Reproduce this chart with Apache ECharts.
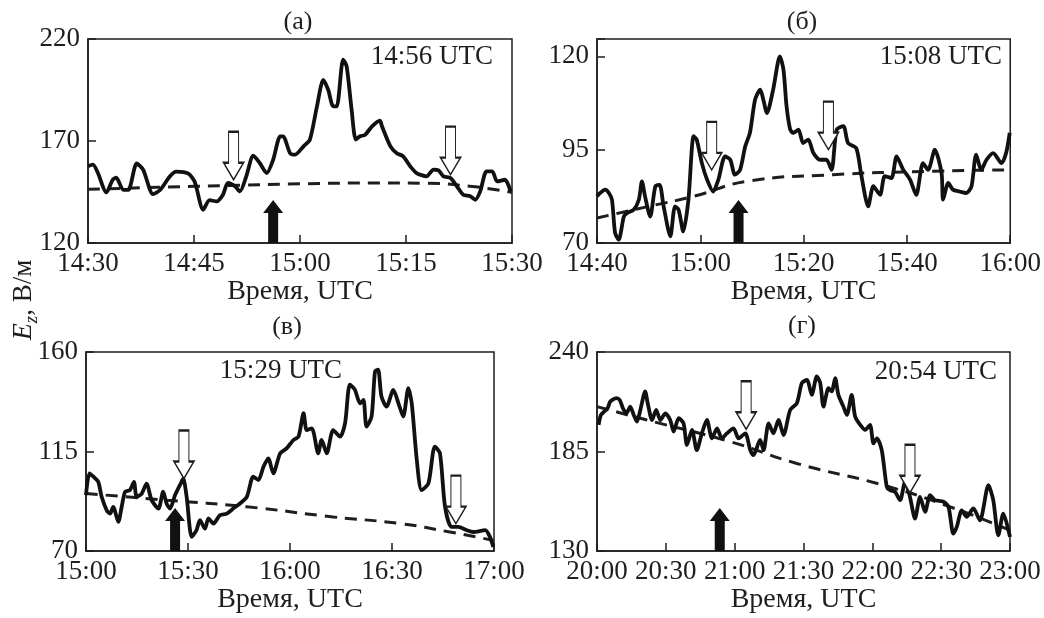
<!DOCTYPE html>
<html>
<head>
<meta charset="utf-8">
<script src="https://cdn.jsdelivr.net/npm/echarts@6/dist/echarts.min.js"></script>
<style>
html,body{margin:0;padding:0;background:#fff;}
#chart{width:1044px;height:618px;}
</style>
</head>
<body>
<div id="chart"></div>
<script>
// ---- Panel (а): minutes after 14:30, Ez in V/m ----
const ticksA = ['14:30', '14:45', '15:00', '15:15', '15:30'];
const curveA = [[0,157.6],[0.7,158.4],[1.4,154.3],[2.6,144.8],[3.5,151],[4,152],[5,146],[5.7,146],[6.9,159],[7.8,156],[9.2,144],[10.2,146],[11.6,152.7],[12.5,155],[14.2,154],[15.1,150],[16.3,136.3],[17.2,141],[18.2,140.4],[19.1,143.7],[19.8,149.4],[20.8,147.8],[21.5,145.3],[22.4,152.7],[23.4,162.8],[24.3,159.2],[25.3,154.3],[26.2,160.8],[27.2,172.3],[27.6,172.3],[28.6,164],[29.3,163.3],[30.5,167.4],[31.4,170.7],[32.4,187],[33.3,200],[34,195],[34.7,187],[35.2,187],[36.1,209.9],[36.6,206.6],[37.3,185.4],[37.9,170.7],[38.5,172.3],[39.2,173],[40.2,177.2],[41.3,180],[41.6,177.2],[42.8,167.4],[43.7,164],[44.6,162.5],[45.6,157.6],[46.5,154.3],[47.9,152.7],[48.9,156],[49.6,155.6],[50.3,152.7],[51.3,151.9],[52.2,147.8],[53.1,143.7],[54.1,142.9],[54.8,141.2],[55.5,145.3],[56.4,155.1],[57.2,155.1],[57.9,150.2],[59,151],[59.8,145.3]];
const trendA = [[0,146.3],[10,147.3],[20,148.2],[30,149],[40,149.4],[48,149.3],[54,147.8],[58,146],[60,144.8]];
const openArrowsA = [[20.6,151],[51.3,153.5]];
const eventA = 26.2;

// ---- Panel (б): minutes after 14:40 ----
const ticksB = ['14:40', '15:00', '15:20', '15:40', '16:00'];
const curveB = [[0,82.5],[0.6,83.4],[1.6,84.3],[2.3,83.4],[2.9,81.6],[3.5,72.7],[4.2,70.9],[5.2,77.1],[5.8,78],[7.1,78.9],[8.1,81.6],[8.7,86.5],[9.3,82.5],[10.3,77.1],[11.3,85.2],[12.1,85.6],[12.9,79.8],[14.2,71.8],[15.1,79.8],[15.8,78.9],[16.7,73.1],[17.7,81.6],[18.7,98.6],[19.3,97.7],[20.3,91.4],[21.3,87],[22.5,83.8],[23.5,87],[24.8,93.2],[25.8,92.3],[26.7,88.3],[27.7,89.6],[28.7,95.9],[29.6,99.5],[30.6,108.4],[31.6,111.1],[32.2,108.4],[32.9,104.8],[34.1,111.1],[35.4,120],[36.1,116.4],[36.7,106.6],[37.4,100.4],[38,99.5],[39,100.4],[39.9,96.8],[40.9,97.7],[41.9,94.1],[43.2,92.3],[44.4,92.3],[45.4,89.6],[46.4,100.4],[47.7,101.3],[48.6,96.8],[50.2,95.4],[51.2,87.9],[52.5,79.8],[53.5,85.2],[54.8,82.9],[55.7,87.9],[57,87.4],[58,93.2],[59.3,89.6],[60.6,87],[61.8,82.9],[63.1,91.4],[64.1,89.6],[65.4,95],[66.7,88.8],[67,81.6],[68,86.1],[68.9,84.3],[70.2,83.8],[71.5,83.4],[72.5,85.2],[73.4,93.7],[74.4,89.6],[75.4,92.3],[76.7,94.1],[78.3,91.4],[79.2,94.1],[79.9,99.5]];
const trendB = [[0,76.7],[10,79.8],[18.7,82.5],[29,86.5],[45.7,88.3],[63.8,89.2],[80,89.6]];
const openArrowsB = [[22.2,89.6],[44.8,95]];
const eventB = 27.4;

// ---- Panel (в): minutes after 15:00 ----
const ticksC = ['15:00', '15:30', '16:00', '16:30', '17:00'];
const curveC = [[0,95.3],[1,105.1],[2.2,103.6],[3.6,101.3],[4.6,94.5],[6.1,88.4],[7.1,86.9],[8,90],[9.5,83.2],[10.5,90],[11.5,96.8],[12.9,97.5],[14.1,101.3],[14.9,94.5],[16.4,96],[17.8,100.5],[19.3,93],[21.3,89.2],[22.7,96.8],[23.7,91.5],[24.7,89.2],[26.2,95.3],[28.1,101.3],[28.6,102.8],[29.6,94.5],[31.1,76.4],[32.5,79.4],[33.5,83.9],[35,80.1],[36,84.7],[37.5,82.4],[39.4,86.2],[41.4,86.9],[43.3,89.2],[45.3,91.5],[47.3,94.5],[49.2,103.6],[50.7,102.1],[52.2,108.1],[53.6,111.9],[55.1,105.1],[57.1,114.2],[59,116.4],[61,120.2],[62.5,121.7],[64,132.3],[64.9,124.7],[66.4,125.5],[68.3,114.2],[69.3,120.2],[70.8,114.2],[72.7,124.7],[74.7,121.7],[76.2,127.8],[77.6,145.2],[79.1,142.9],[80.6,136.8],[81.6,138.3],[82.5,126.3],[84,130.8],[85,151.2],[85.9,152],[86.9,139.9],[88.4,135.3],[90.4,142.9],[91.9,136.8],[93.3,130.8],[94.8,143.6],[95.8,136.8],[97.3,111.1],[98.7,97.5],[100.7,100.5],[102.6,117.2],[104.1,114.2],[105.6,90],[107.5,80.9],[109.5,80.9],[112,79.4],[113.9,78.6],[117.4,79.4],[118.8,76.4],[119.8,71.8]];
const trendC = [[0,96],[23.7,93],[47.3,90],[72.7,85.4],[92.4,82.4],[107,78.6],[119.8,74.8]];
const openArrowsC = [[28.8,102.8],[108.8,82.4]];
const eventC = 26.2;

// ---- Panel (г): minutes after 20:00 ----
const ticksD = ['20:00', '20:30', '21:00', '21:30', '22:00', '22:30', '23:00'];
const curveD = [[0.7,199.7],[1.7,205.2],[3.2,207.1],[4.6,208.9],[5.8,212.6],[8.4,214.5],[9.9,213.5],[11.3,208.9],[12.8,206.1],[14.5,209.8],[16,205.2],[17.4,201.5],[18.9,208],[21,218.2],[22.1,211.7],[24,202.4],[25.8,208],[27.6,202.4],[29.8,206.1],[31.9,202.4],[33.4,196],[35.6,203.4],[37.7,200.6],[39.2,188.6],[41.4,196.9],[43.5,185.8],[45.7,195],[47.9,202.4],[50.1,192.3],[52.3,197.8],[54.4,192.3],[56.6,195],[59.5,197.8],[61.7,192.3],[64.6,195],[66.8,185.8],[68.2,183],[71.1,191.4],[72.6,185.8],[74.8,200.6],[76.9,195],[79.1,202.4],[81.3,194.1],[84.2,208],[87.1,211.7],[89.3,222.8],[91.5,224.6],[93.6,216.3],[95.8,226.5],[97.3,222.8],[98.7,209.8],[100.9,220],[102.3,218.2],[103.8,225.5],[105.2,216.3],[107.4,209.8],[108.9,205.2],[111,216.3],[112.5,204.3],[114.7,199.7],[116.9,196.9],[119,199.7],[120.5,189.5],[122,192.3],[124.1,185.8],[126.3,165.5],[127.7,163.6],[129.9,162.7],[132.1,158.1],[134.3,168.3],[136.4,159.9],[138.6,147.9],[140.8,159.9],[143,151.6],[145.2,160.9],[147.3,158.1],[151,157.2],[153.2,154.4],[155.3,139.6],[156.8,143.3],[159,152.5],[161.1,148.9],[164,153.5],[166.9,147],[170.6,166.4],[172.7,158.1],[174.9,138.7],[177.1,150.7],[180,137.8]];
const trendD = [[0,209.8],[21.8,202.4],[58.1,190.4],[87.1,178.4],[124.8,166.4],[153.9,154.4],[180,141.5]];
const openArrowsD = [[65,197.3],[136.4,162.2]];
const eventD = 53.5;

const titles = ['(а)', '(б)', '(в)', '(г)'];
const notes = ['14:56 UTC', '15:08 UTC', '15:29 UTC', '20:54 UTC'];
const xName = 'Время, UTC';

// ---- layout / style ----
const FONT = '"Liberation Serif", "Times New Roman", serif';
const INK = '#1e1e1e';
const FS = 27;
const panels = [
  {grid: {left: 88, top: 39, width: 424, height: 204}, xMax: 60, xInt: 15, ticks: ticksA, yMin: 120, yMax: 220, yInt: 50, yLabels: [120,170,220], curve: curveA, trend: trendA, open: openArrowsA, ev: eventA},
  {grid: {left: 597, top: 39, width: 414, height: 204}, xMax: 80, xInt: 20, ticks: ticksB, yMin: 70, yMax: 124.66, yInt: 25, yLabels: [70,95,120], curve: curveB, trend: trendB, open: openArrowsB, ev: eventB},
  {grid: {left: 86, top: 352, width: 408, height: 199}, xMax: 120, xInt: 30, ticks: ticksC, yMin: 70, yMax: 160, yInt: 45, yLabels: [70,115,160], curve: curveC, trend: trendC, open: openArrowsC, ev: eventC},
  {grid: {left: 597, top: 352, width: 413, height: 199}, xMax: 180, xInt: 30, ticks: ticksD, yMin: 130, yMax: 240, yInt: 55, yLabels: [130,185,240], curve: curveD, trend: trendD, open: openArrowsD, ev: eventD}
];

const downArrow = 'path://M5,0 L15,0 L15,31 L20,31 L10,48 L0,31 L5,31 Z';
const upArrow = 'path://M10,0 L20,13 L15,13 L15,43 L5,43 L5,13 L0,13 Z';

const grids = [], xAxes = [], yAxes = [], series = [];
panels.forEach((p, i) => {
  grids.push(Object.assign({show: true, borderColor: INK, borderWidth: 1.5, backgroundColor: 'transparent', containLabel: false}, p.grid));
  xAxes.push({
    type: 'value', gridIndex: i, min: 0, max: p.xMax, interval: p.xInt,
    name: xName, nameLocation: 'middle', nameGap: 35,
    nameTextStyle: {fontFamily: FONT, fontSize: 28, color: INK},
    axisLine: {show: true, lineStyle: {color: INK, width: 1.5}},
    axisTick: {show: true, inside: true, length: 8, lineStyle: {color: INK, width: 1.5}},
    splitLine: {show: false},
    axisLabel: {fontFamily: FONT, fontSize: FS, color: INK, margin: 7, showMinLabel: true, showMaxLabel: true,
      formatter: (v) => { const k = Math.round(v / p.xInt); return (Math.abs(k * p.xInt - v) < 1e-6) ? (p.ticks[k] || '') : ''; }}
  });
  yAxes.push({
    type: 'value', gridIndex: i, min: p.yMin, max: p.yMax, interval: p.yInt,
    axisLine: {show: true, lineStyle: {color: INK, width: 1.5}},
    axisTick: {show: true, inside: true, length: 8, lineStyle: {color: INK, width: 1.5}},
    splitLine: {show: false},
    axisLabel: {fontFamily: FONT, fontSize: FS, color: INK, margin: 8, showMinLabel: true, showMaxLabel: true,
      formatter: (v) => p.yLabels.some(t => Math.abs(t - v) < 1e-6) ? String(Math.round(v)) : ''}
  });
  series.push({
    type: 'line', xAxisIndex: i, yAxisIndex: i, data: p.trend, smooth: true, symbol: 'none',
    lineStyle: {color: INK, width: 3, type: [12, 8]}, silent: true, z: 2
  });
  const mp = p.open.map(a => ({coord: a, symbol: downArrow, symbolSize: [20, 48], symbolOffset: [0, '-50%'],
      itemStyle: {color: '#fff', borderColor: INK, borderWidth: 1.5}}));
  mp.push({coord: [p.ev, p.yMin], symbol: upArrow, symbolSize: [20, 43], symbolOffset: [0, '-50%'],
      itemStyle: {color: '#111', borderColor: '#111', borderWidth: 0}});
  series.push({
    type: 'line', xAxisIndex: i, yAxisIndex: i, data: p.curve, smooth: 0.25, symbol: 'none',
    lineStyle: {color: '#111', width: 3.8, join: 'round'}, silent: true, z: 3,
    markPoint: {data: mp, label: {show: false}, silent: true, animation: false}
  });
});

const graphic = [];
const titlePos = [[298, 22], [802, 22], [287, 327], [802, 326]];
titles.forEach((t, i) => graphic.push({type: 'text', x: titlePos[i][0], y: titlePos[i][1],
  style: {text: t, fontFamily: FONT, fontSize: 26, fill: INK, align: 'center', verticalAlign: 'middle'}}));
const notePos = [[493, 57, 'right'], [1002, 57, 'right'], [281, 371, 'center'], [997, 372, 'right']];
notes.forEach((t, i) => graphic.push({type: 'text', x: notePos[i][0], y: notePos[i][1], z: 10,
  style: {text: t, fontFamily: FONT, fontSize: FS, fill: INK, align: notePos[i][2], verticalAlign: 'middle'}}));
graphic.push({type: 'text', x: 24, y: 300, rotation: Math.PI / 2,
  style: {text: '{e|E}{z|z}{n|, В/м}', align: 'center', verticalAlign: 'middle',
    rich: {
      e: {fontFamily: FONT, fontSize: 28, fontStyle: 'italic', fill: INK, lineHeight: 34, verticalAlign: 'middle'},
      z: {fontFamily: FONT, fontSize: 19, fontStyle: 'italic', fill: INK, lineHeight: 19, verticalAlign: 'bottom'},
      n: {fontFamily: FONT, fontSize: 27, fill: INK, lineHeight: 34, verticalAlign: 'middle'}
    }}});

const chart = echarts.init(document.getElementById('chart'), null, {renderer: 'canvas'});
chart.setOption({animation: false, backgroundColor: '#fff', grid: grids, xAxis: xAxes, yAxis: yAxes, series: series, graphic: graphic});
</script>
</body>
</html>
